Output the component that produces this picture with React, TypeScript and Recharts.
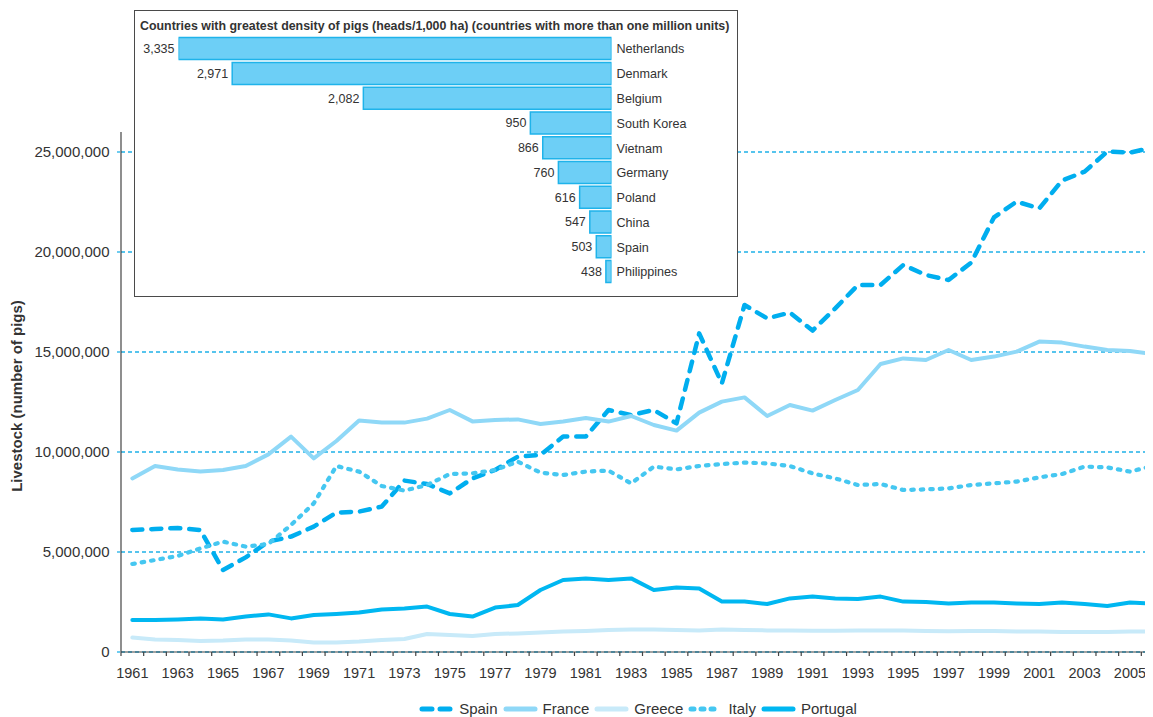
import React from 'react';
import { LineChart, Line, XAxis, YAxis, CartesianGrid, Legend, BarChart, Bar, LabelList } from 'recharts';

const years = [1961, 1962, 1963, 1964, 1965, 1966, 1967, 1968, 1969, 1970, 1971, 1972, 1973, 1974, 1975, 1976, 1977, 1978, 1979, 1980, 1981, 1982, 1983, 1984, 1985, 1986, 1987, 1988, 1989, 1990, 1991, 1992, 1993, 1994, 1995, 1996, 1997, 1998, 1999, 2000, 2001, 2002, 2003, 2004, 2005, 2006];

// millions of pigs
const spain = [6.10, 6.15, 6.20, 6.10, 4.10, 4.73, 5.52, 5.77, 6.27, 6.97, 7.02, 7.27, 8.57, 8.40, 7.93, 8.68, 9.10, 9.77, 9.85, 10.77, 10.77, 12.10, 11.85, 12.10, 11.43, 15.93, 13.43, 17.35, 16.68, 16.97, 16.07, 17.18, 18.35, 18.35, 19.35, 18.85, 18.60, 19.47, 21.73, 22.52, 22.18, 23.57, 24.02, 25.02, 24.97, 25.23];
const france = [8.68, 9.30, 9.13, 9.02, 9.10, 9.30, 9.88, 10.77, 9.68, 10.55, 11.57, 11.47, 11.47, 11.67, 12.10, 11.53, 11.60, 11.63, 11.40, 11.53, 11.70, 11.52, 11.80, 11.35, 11.07, 11.97, 12.52, 12.73, 11.80, 12.35, 12.07, 12.60, 13.10, 14.40, 14.68, 14.60, 15.10, 14.60, 14.77, 15.02, 15.52, 15.47, 15.27, 15.10, 15.05, 14.90];
const greece = [0.72, 0.63, 0.60, 0.55, 0.57, 0.63, 0.63, 0.57, 0.47, 0.47, 0.52, 0.60, 0.65, 0.90, 0.85, 0.80, 0.90, 0.93, 0.97, 1.02, 1.05, 1.10, 1.12, 1.12, 1.10, 1.08, 1.12, 1.10, 1.08, 1.08, 1.06, 1.06, 1.08, 1.07, 1.07, 1.05, 1.04, 1.05, 1.05, 1.03, 1.03, 1.00, 1.00, 1.00, 1.02, 1.02];
const italy = [4.40, 4.60, 4.80, 5.18, 5.52, 5.27, 5.40, 6.35, 7.43, 9.30, 9.02, 8.30, 8.07, 8.35, 8.90, 8.93, 9.10, 9.52, 8.97, 8.85, 9.02, 9.07, 8.43, 9.27, 9.13, 9.30, 9.40, 9.47, 9.43, 9.30, 8.93, 8.68, 8.35, 8.40, 8.10, 8.13, 8.18, 8.35, 8.43, 8.52, 8.73, 8.90, 9.27, 9.23, 9.02, 9.30];
const portugal = [1.60, 1.60, 1.63, 1.68, 1.63, 1.77, 1.88, 1.68, 1.85, 1.90, 1.97, 2.13, 2.17, 2.27, 1.90, 1.77, 2.22, 2.35, 3.10, 3.60, 3.68, 3.60, 3.68, 3.10, 3.22, 3.18, 2.52, 2.52, 2.40, 2.68, 2.77, 2.68, 2.65, 2.77, 2.52, 2.50, 2.43, 2.47, 2.47, 2.43, 2.40, 2.48, 2.40, 2.30, 2.47, 2.43];

const yTicks = [0, 5000000, 10000000, 15000000, 20000000, 25000000];

const densityCountries = ['Netherlands', 'Denmark', 'Belgium', 'South Korea', 'Vietnam', 'Germany', 'Poland', 'China', 'Spain', 'Philippines'];
const densityValues = [3335, 2971, 2082, 950, 866, 760, 616, 547, 503, 438];

const insetTitle = 'Countries with greatest density of pigs (heads/1,000 ha) (countries with more than one million units)';
const yAxisTitle = 'Livestock (number of pigs)';

const FONT = '"Liberation Sans", Arial, Helvetica, sans-serif';
const TEXT = '#333333';
const GRID = '#1fb1e8';

const CHART_W = 1156;
const Y_AXIS_W = 113;

const series = [
  { key: 'Spain', color: '#00aeef', width: 4.5, dash: '10 9', legendDash: '10 8' },
  { key: 'France', color: '#8fd8f7', width: 4, dash: undefined, legendDash: undefined },
  { key: 'Greece', color: '#c8eaf9', width: 4, dash: undefined, legendDash: undefined },
  { key: 'Italy', color: '#45c7f1', width: 4.2, dash: '2.5 7', legendDash: '3 7' },
  { key: 'Portugal', color: '#00b7f1', width: 4, dash: undefined, legendDash: undefined },
];

const seriesValues: Record<string, number[]> = { Spain: spain, France: france, Greece: greece, Italy: italy, Portugal: portugal };

const data = years.map((year, i) => {
  const row: Record<string, number> = { year };
  series.forEach((s) => {
    row[s.key] = Math.round(seriesValues[s.key][i] * 1000000);
  });
  return row;
});

// tick marks sit on the boundaries between the yearly bands
const boundaryTicks = [years[0] - 0.5, ...years.map((y) => y + 0.5)];
const HALF_BAND = (CHART_W - Y_AXIS_W) / years.length / 2;

const densityData = densityCountries.map((country, i) => ({ country, value: densityValues[i] }));

const fmt = (v: number) => v.toLocaleString('en-US');

const YearTick = (props: any) => {
  const { x, y, payload } = props;
  const year = Number(payload.value) - 0.5;
  if (year < years[0] || year % 2 === 0) return <g />;
  return (
    <text x={Number(x) - HALF_BAND} y={y} dy="0.71em" textAnchor="middle" fontSize={14.5} fontFamily={FONT} fill={TEXT}>
      {year}
    </text>
  );
};

const renderLegend = () => (
  <div
    style={{
      display: 'flex',
      justifyContent: 'center',
      alignItems: 'center',
      height: 16,
      lineHeight: '16px',
      fontFamily: FONT,
      fontSize: 15,
      color: TEXT,
    }}
  >
    {series.map((s) => (
      <div key={s.key} style={{ display: 'flex', alignItems: 'center', marginRight: 5 }}>
        <svg width={35} height={10} style={{ marginRight: 5 }}>
          <line
            x1={3}
            y1={5}
            x2={32}
            y2={5}
            stroke={s.color}
            strokeWidth={5}
            strokeLinecap="round"
            strokeDasharray={s.legendDash}
          />
        </svg>
        <span>{s.key}</span>
      </div>
    ))}
  </div>
);

const ValueLabel = (props: any) => {
  const { x, y, width, height, value } = props;
  const left = Math.min(Number(x), Number(x) + Number(width));
  return (
    <text
      x={left - 4}
      y={Number(y) + Number(height) / 2}
      dy="0.35em"
      textAnchor="end"
      fontSize={12.5}
      fontFamily={FONT}
      fill={TEXT}
    >
      {fmt(Number(value))}
    </text>
  );
};

export default function App() {
  return (
    <div style={{ position: 'relative', width: 1145, height: 709, overflow: 'hidden', fontFamily: FONT }}>
      <LineChart width={CHART_W} height={709} data={data} margin={{ top: 124, right: 0, bottom: 0, left: 0 }}>
        <CartesianGrid vertical={false} syncWithTicks stroke={GRID} strokeDasharray="4 3" strokeWidth={1.3} />
        <XAxis
          dataKey="year"
          type="number"
          domain={[years[0] - 0.5, years[years.length - 1] + 0.5]}
          allowDataOverflow
          ticks={boundaryTicks}
          interval={0}
          tick={<YearTick />}
          tickSize={4}
          tickMargin={11.5}
          tickLine={{ stroke: '#444', strokeWidth: 1.2 }}
          axisLine={{ stroke: '#444', strokeWidth: 1.2 }}
          height={49}
        />
        <YAxis
          type="number"
          domain={[0, 26000000]}
          ticks={yTicks}
          interval={0}
          width={Y_AXIS_W}
          tickFormatter={fmt}
          tickSize={4}
          tickMargin={7.5}
          tickLine={{ stroke: GRID, strokeDasharray: '3 2', strokeWidth: 1.3 }}
          axisLine={{ stroke: '#444', strokeWidth: 1.2 }}
          tick={{ fill: TEXT, fontSize: 15, fontFamily: FONT }}
          label={{
            value: yAxisTitle,
            angle: -90,
            position: 'insideLeft',
            dx: 4,
            dy: 4,
            style: { textAnchor: 'middle', fontWeight: 'bold', fontSize: 15, fill: TEXT, fontFamily: FONT },
          }}
        />
        {series.map((s) => (
          <Line
            key={s.key}
            type="linear"
            dataKey={s.key}
            name={s.key}
            stroke={s.color}
            strokeWidth={s.width}
            strokeDasharray={s.dash}
            strokeLinecap="round"
            strokeLinejoin="round"
            dot={false}
            activeDot={false}
            isAnimationActive={false}
          />
        ))}
        <Legend verticalAlign="bottom" align="left" content={renderLegend} wrapperStyle={{ left: 113, width: 1039 }} />
      </LineChart>

      <div
        style={{
          position: 'absolute',
          left: 126,
          top: 2,
          width: 604,
          height: 287,
          boxSizing: 'border-box',
          border: '1.5px solid #4a4a4a',
          background: '#ffffff',
        }}
      >
        <div
          style={{
            position: 'absolute',
            left: 5,
            top: 8,
            fontFamily: FONT,
            fontSize: 12.4,
            lineHeight: '14px',
            fontWeight: 'bold',
            color: TEXT,
            whiteSpace: 'nowrap',
          }}
        >
          {insetTitle}
        </div>
        <div style={{ position: 'absolute', left: 0, top: 0 }}>
          <BarChart
            width={601}
            height={284}
            data={densityData}
            layout="vertical"
            margin={{ top: 25.6, right: 24.5, bottom: 10.6, left: 43.5 }}
          >
            <XAxis type="number" domain={[400, 3335]} reversed hide allowDataOverflow />
            <YAxis
              type="category"
              dataKey="country"
              orientation="right"
              width={100}
              tickLine={false}
              axisLine={false}
              tickSize={0}
              tickMargin={5}
              interval={0}
              tick={{ fill: TEXT, fontSize: 12.6, fontFamily: FONT, textAnchor: 'start' }}
            />
            <Bar dataKey="value" fill="#6dcff6" stroke="#1fb3ea" strokeWidth={1.5} barSize={22} isAnimationActive={false}>
              <LabelList dataKey="value" content={<ValueLabel />} />
            </Bar>
          </BarChart>
        </div>
      </div>
    </div>
  );
}
